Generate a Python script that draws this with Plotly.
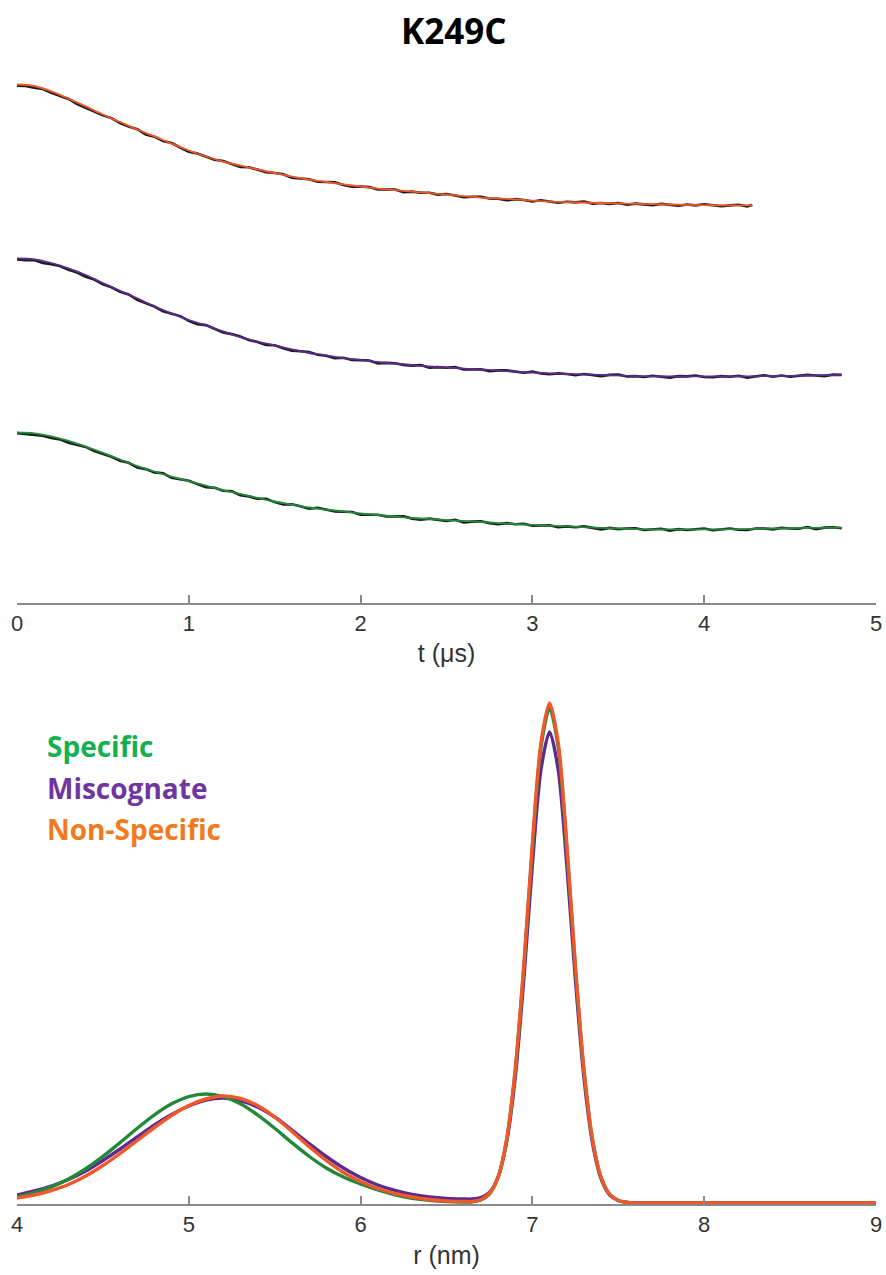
import plotly.graph_objects as go

# ---------------- top panel: DEER time traces (normalized) ----------------
t_fit = [0.0, 0.1, 0.2, 0.3, 0.4, 0.5, 0.6, 0.7, 0.8, 0.9, 1.0, 1.1, 1.2, 1.3, 1.4, 1.5,
         1.6, 1.7, 1.8, 1.9, 2.0, 2.1, 2.2, 2.3, 2.4, 2.5, 2.6, 2.7, 2.8, 2.9, 3.0,
         3.2, 3.4, 3.6, 3.8, 4.0, 4.2, 4.4, 4.6, 4.8]
t_fit_ns = [0.0, 0.1, 0.2, 0.3, 0.4, 0.5, 0.6, 0.7, 0.8, 0.9, 1.0, 1.1, 1.2, 1.3, 1.4, 1.5,
            1.6, 1.7, 1.8, 1.9, 2.0, 2.1, 2.2, 2.3, 2.4, 2.5, 2.6, 2.7, 2.8, 2.9, 3.0,
            3.2, 3.4, 3.6, 3.8, 4.0, 4.2, 4.28]

fit_specific = [1.000, 0.997, 0.987, 0.972, 0.953, 0.932, 0.910, 0.888, 0.870, 0.853, 0.838,
                0.823, 0.808, 0.795, 0.782, 0.770, 0.760, 0.750, 0.743, 0.737, 0.730, 0.725,
                0.720, 0.715, 0.712, 0.708, 0.705, 0.702, 0.698, 0.695, 0.692, 0.687, 0.682,
                0.678, 0.677, 0.677, 0.678, 0.680, 0.682, 0.683]
fit_miscognate = [1.000, 0.997, 0.985, 0.967, 0.945, 0.918, 0.892, 0.867, 0.840, 0.817, 0.795,
                  0.777, 0.757, 0.738, 0.723, 0.710, 0.697, 0.685, 0.677, 0.668, 0.662, 0.655,
                  0.650, 0.645, 0.640, 0.637, 0.633, 0.630, 0.627, 0.623, 0.620, 0.615, 0.612,
                  0.608, 0.607, 0.607, 0.607, 0.608, 0.610, 0.612]
fit_nonspecific = [1.000, 0.995, 0.977, 0.953, 0.927, 0.900, 0.875, 0.850, 0.827, 0.803, 0.780,
                   0.760, 0.743, 0.730, 0.717, 0.705, 0.693, 0.683, 0.675, 0.667, 0.660, 0.653,
                   0.648, 0.643, 0.638, 0.633, 0.628, 0.623, 0.620, 0.617, 0.613, 0.608, 0.605,
                   0.602, 0.600, 0.598, 0.597, 0.597]

t_data = [0.00, 0.05, 0.10, 0.15, 0.20, 0.25, 0.30, 0.35, 0.40, 0.45, 0.50, 0.55, 0.60, 0.65,
          0.70, 0.75, 0.80, 0.85, 0.90, 0.95, 1.00, 1.05, 1.10, 1.15, 1.20, 1.25, 1.30, 1.35,
          1.40, 1.45, 1.50, 1.55, 1.60, 1.65, 1.70, 1.75, 1.80, 1.85, 1.90, 1.95, 2.00, 2.05,
          2.10, 2.15, 2.20, 2.25, 2.30, 2.35, 2.40, 2.45, 2.50, 2.55, 2.60, 2.65, 2.70, 2.75,
          2.80, 2.85, 2.90, 2.95, 3.00, 3.05, 3.10, 3.15, 3.20, 3.25, 3.30, 3.35, 3.40, 3.45,
          3.50, 3.55, 3.60, 3.65, 3.70, 3.75, 3.80, 3.85, 3.90, 3.95, 4.00, 4.05, 4.10, 4.15,
          4.20, 4.25, 4.30, 4.35, 4.40, 4.45, 4.50, 4.55, 4.60, 4.65, 4.70, 4.75, 4.80]
t_data_ns = [0.00, 0.05, 0.10, 0.15, 0.20, 0.25, 0.30, 0.35, 0.40, 0.45, 0.50, 0.55, 0.60, 0.65,
             0.70, 0.75, 0.80, 0.85, 0.90, 0.95, 1.00, 1.05, 1.10, 1.15, 1.20, 1.25, 1.30, 1.35,
             1.40, 1.45, 1.50, 1.55, 1.60, 1.65, 1.70, 1.75, 1.80, 1.85, 1.90, 1.95, 2.00, 2.05,
             2.10, 2.15, 2.20, 2.25, 2.30, 2.35, 2.40, 2.45, 2.50, 2.55, 2.60, 2.65, 2.70, 2.75,
             2.80, 2.85, 2.90, 2.95, 3.00, 3.05, 3.10, 3.15, 3.20, 3.25, 3.30, 3.35, 3.40, 3.45,
             3.50, 3.55, 3.60, 3.65, 3.70, 3.75, 3.80, 3.85, 3.90, 3.95, 4.00, 4.05, 4.10, 4.15,
             4.20, 4.25, 4.28]

data_specific = [0.998, 0.995, 0.991, 0.989, 0.982, 0.977, 0.966, 0.959, 0.952, 0.938, 0.929,
                 0.919, 0.906, 0.899, 0.883, 0.878, 0.867, 0.864, 0.849, 0.844, 0.839, 0.828,
                 0.818, 0.816, 0.806, 0.804, 0.791, 0.787, 0.779, 0.779, 0.768, 0.760, 0.761,
                 0.754, 0.746, 0.749, 0.743, 0.737, 0.736, 0.735, 0.726, 0.726, 0.726, 0.720,
                 0.720, 0.721, 0.713, 0.709, 0.713, 0.709, 0.705, 0.709, 0.700, 0.703, 0.704,
                 0.698, 0.694, 0.698, 0.694, 0.696, 0.689, 0.690, 0.691, 0.684, 0.687, 0.684,
                 0.687, 0.682, 0.677, 0.682, 0.678, 0.680, 0.681, 0.675, 0.676, 0.679, 0.673,
                 0.678, 0.675, 0.677, 0.680, 0.674, 0.677, 0.680, 0.676, 0.675, 0.680, 0.680,
                 0.677, 0.682, 0.680, 0.679, 0.685, 0.678, 0.683, 0.684, 0.681]
data_miscognate = [0.997, 0.994, 0.995, 0.985, 0.981, 0.975, 0.962, 0.953, 0.939, 0.930, 0.914,
                   0.904, 0.889, 0.880, 0.862, 0.851, 0.840, 0.824, 0.816, 0.808, 0.792, 0.781,
                   0.778, 0.765, 0.753, 0.748, 0.740, 0.728, 0.722, 0.712, 0.711, 0.701, 0.693,
                   0.691, 0.688, 0.679, 0.676, 0.668, 0.669, 0.662, 0.662, 0.660, 0.650, 0.652,
                   0.651, 0.645, 0.643, 0.645, 0.636, 0.638, 0.636, 0.638, 0.630, 0.630, 0.631,
                   0.624, 0.627, 0.627, 0.622, 0.619, 0.623, 0.617, 0.614, 0.617, 0.615, 0.611,
                   0.615, 0.611, 0.608, 0.612, 0.613, 0.607, 0.608, 0.605, 0.609, 0.606, 0.603,
                   0.608, 0.607, 0.610, 0.605, 0.604, 0.608, 0.606, 0.609, 0.603, 0.608, 0.611,
                   0.606, 0.610, 0.606, 0.610, 0.612, 0.610, 0.608, 0.613, 0.612]
data_nonspecific = [0.996, 0.995, 0.989, 0.985, 0.972, 0.963, 0.952, 0.935, 0.923, 0.911, 0.897,
                    0.888, 0.871, 0.860, 0.851, 0.833, 0.826, 0.812, 0.805, 0.790, 0.776, 0.770,
                    0.759, 0.749, 0.745, 0.735, 0.725, 0.724, 0.716, 0.708, 0.705, 0.701, 0.689,
                    0.686, 0.684, 0.676, 0.674, 0.674, 0.665, 0.659, 0.660, 0.658, 0.650, 0.650,
                    0.650, 0.641, 0.643, 0.639, 0.639, 0.633, 0.635, 0.630, 0.624, 0.626, 0.626,
                    0.620, 0.619, 0.614, 0.618, 0.615, 0.610, 0.614, 0.609, 0.606, 0.609, 0.607,
                    0.610, 0.603, 0.605, 0.602, 0.605, 0.599, 0.603, 0.600, 0.598, 0.602, 0.600,
                    0.596, 0.600, 0.597, 0.601, 0.597, 0.594, 0.597, 0.599, 0.594, 0.598]

# vertical stacking offsets of the three traces (layout)
off_specific, off_miscognate, off_nonspecific = 0.0, 0.58, 1.16

# ---------------- bottom panel: distance distributions ----------------
r_nm = [4.0, 4.1, 4.2, 4.3, 4.4, 4.5, 4.6, 4.7, 4.8, 4.9, 5.0, 5.1, 5.2, 5.3, 5.4, 5.5, 5.6,
        5.7, 5.8, 5.9, 6.0, 6.1, 6.2, 6.3, 6.4, 6.5, 6.6, 6.65, 6.7, 6.75, 6.8, 6.85, 6.9,
        6.95, 7.0, 7.05, 7.1, 7.15, 7.2, 7.25, 7.3, 7.35, 7.4, 7.45, 7.5, 7.55, 7.6, 7.7,
        7.8, 8.0, 8.5, 9.0]
p_specific = [0.0125, 0.0205, 0.0322, 0.0480, 0.0685, 0.0931, 0.1207, 0.1494, 0.1762, 0.1983,
              0.2129, 0.2180, 0.2129, 0.1983, 0.1762, 0.1494, 0.1207, 0.0935, 0.0700, 0.0520,
              0.0380, 0.0260, 0.0165, 0.0095, 0.0052, 0.0027, 0.0018, 0.0025, 0.0062, 0.0180,
              0.0510, 0.1260, 0.2640, 0.4710, 0.7120, 0.9120, 0.9900, 0.9120, 0.7120, 0.4710,
              0.2640, 0.1260, 0.0510, 0.0175, 0.0050, 0.0012, 0.0003, 0.0, 0.0, 0.0, 0.0, 0.0]
p_miscognate = [0.016, 0.024, 0.034, 0.047, 0.064, 0.085, 0.108, 0.132, 0.156, 0.177, 0.194,
                0.206, 0.210, 0.205, 0.192, 0.172, 0.146, 0.119, 0.093, 0.070, 0.051, 0.036,
                0.025, 0.017, 0.012, 0.009, 0.008, 0.008, 0.011, 0.021, 0.052, 0.122, 0.251,
                0.448, 0.677, 0.867, 0.942, 0.867, 0.677, 0.448, 0.251, 0.120, 0.048, 0.016,
                0.005, 0.001, 0.0003, 0.0, 0.0, 0.0, 0.0, 0.0]
p_nonspecific = [0.010, 0.016, 0.025, 0.037, 0.054, 0.075, 0.099, 0.125, 0.151, 0.175, 0.195,
                 0.208, 0.214, 0.209, 0.195, 0.172, 0.143, 0.113, 0.085, 0.061, 0.043, 0.029,
                 0.019, 0.012, 0.007, 0.004, 0.003, 0.003, 0.007, 0.019, 0.051, 0.127, 0.267,
                 0.475, 0.719, 0.921, 1.000, 0.921, 0.719, 0.475, 0.267, 0.127, 0.051, 0.0175,
                 0.005, 0.0012, 0.0003, 0.0, 0.0, 0.0, 0.0, 0.0]

series_names = ["Specific", "Miscognate", "Non-Specific"]
tick_t = [0, 1, 2, 3, 4, 5]
tick_r = [4, 5, 6, 7, 8, 9]

# ---------------- styles ----------------
C_GREEN = "#23893A"
C_PURPLE = "#5F2A90"
C_ORANGE = "#F0582A"
T_GREEN = "#12B04E"
T_PURPLE = "#7035A0"
T_ORANGE = "#F07A1E"

W, H = 886, 1275
ML, MR = 17, 10

def py(p):  # pixel row -> paper fraction
    return 1 - p / H

def px(p):  # pixel column -> paper fraction
    return (p - ML) / (W - ML - MR)

fig = go.Figure()

# top panel
for td, dd, off in [(t_data, data_specific, off_specific),
                    (t_data, data_miscognate, off_miscognate),
                    (t_data_ns, data_nonspecific, off_nonspecific)]:
    fig.add_trace(go.Scatter(x=td, y=[v + off for v in dd], mode="lines",
                             line=dict(color="#1a1a1a", width=2.6),
                             xaxis="x", yaxis="y", showlegend=False, hoverinfo="skip"))
for tf, ff, off, col in [(t_fit, fit_specific, off_specific, C_GREEN),
                         (t_fit, fit_miscognate, off_miscognate, C_PURPLE),
                         (t_fit_ns, fit_nonspecific, off_nonspecific, C_ORANGE)]:
    fig.add_trace(go.Scatter(x=tf, y=[v + off for v in ff], mode="lines",
                             line=dict(color=col, width=1.8, shape="spline"),
                             xaxis="x", yaxis="y", showlegend=False))

# bottom panel
for pv, col, nm in [(p_miscognate, C_PURPLE, series_names[1]),
                    (p_specific, C_GREEN, series_names[0]),
                    (p_nonspecific, C_ORANGE, series_names[2])]:
    fig.add_trace(go.Scatter(x=r_nm, y=pv, mode="lines", name=nm,
                             line=dict(color=col, width=3.4, shape="spline", smoothing=0.8),
                             xaxis="x2", yaxis="y2", showlegend=False))

tick_font = dict(family="Liberation Sans Narrow, Arial Narrow, Arial", size=22, color="#333333")
axis_common = dict(showline=True, linecolor="#8a8a8a", linewidth=2,
                   ticks="inside", ticklen=8, tickwidth=1.5, tickcolor="#8a8a8a",
                   showgrid=False, zeroline=False, tickfont=tick_font)

top_lo = 1 - (603 - 432.5) / 300
top_hi = 1 + (432.5 - 60) / 300

fig.update_layout(
    width=W, height=H,
    margin=dict(l=ML, r=MR, t=0, b=0),
    paper_bgcolor="white", plot_bgcolor="white",
    xaxis=dict(domain=[0, 1], range=[0, 5], tickvals=tick_t, anchor="y",
               title=dict(text="t (μs)", standoff=9,
                          font=dict(family="Liberation Sans Narrow, Arial Narrow, Arial", size=25, color="#333333")),
               **axis_common),
    yaxis=dict(domain=[py(603), py(60)], range=[top_lo, top_hi], visible=False, anchor="x"),
    xaxis2=dict(domain=[0, 1], range=[4, 9], tickvals=tick_r, anchor="y2",
                title=dict(text="r (nm)", standoff=10,
                           font=dict(family="Liberation Sans Narrow, Arial Narrow, Arial", size=25, color="#333333")),
                **axis_common),
    yaxis2=dict(domain=[py(1204), py(690)], range=[-0.002, 1.026], visible=False, anchor="x2"),
    annotations=[
        dict(text="<b>K249C</b>", x=px(454), y=py(31), xref="paper", yref="paper",
             xanchor="center", yanchor="middle",
             showarrow=False, font=dict(family="Open Sans", size=35, color="black")),
        dict(text="<b>Specific</b>", x=px(45), y=py(746), xref="paper", yref="paper",
             xanchor="left", yanchor="middle", showarrow=False,
             font=dict(family="Open Sans", size=28, color=T_GREEN)),
        dict(text="<b>Miscognate</b>", x=px(45), y=py(788), xref="paper", yref="paper",
             xanchor="left", yanchor="middle", showarrow=False,
             font=dict(family="Open Sans", size=28, color=T_PURPLE)),
        dict(text="<b>Non-Specific</b>", x=px(45), y=py(829), xref="paper", yref="paper",
             xanchor="left", yanchor="middle", showarrow=False,
             font=dict(family="Open Sans", size=28, color=T_ORANGE)),
    ],
)

fig.write_html("out.html")
